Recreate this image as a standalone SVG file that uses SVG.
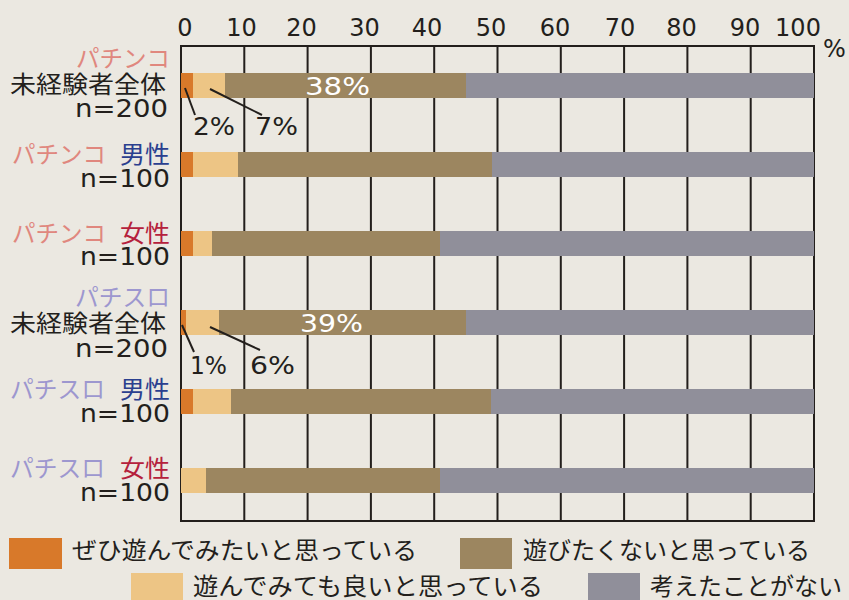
<svg xmlns="http://www.w3.org/2000/svg" width="849" height="600" viewBox="0 0 849 600">
<style>
.bg{fill:#EBE8E1}
.grid{stroke:#231F1C;stroke-width:2;fill:none}
.s1{fill:#D8792A}
.s2{fill:#EDC585}
.s3{fill:#9C8660}
.s4{fill:#908F9A}
.num{font-family:"DejaVu Sans","Liberation Sans",sans-serif;font-size:24px;fill:#231F1C}
.jp{font-family:"Noto Sans CJK JP","Noto Sans",sans-serif;font-size:24px;fill:#231F1C}
.lbl{font-family:"Noto Sans CJK JP","Noto Sans",sans-serif;font-size:24px;fill:#231F1C}
.pk{fill:#E0877E}
.pv{fill:#9D97CF}
.male{fill:#2A3F8F}
.fem{fill:#B5213C}
.wt{font-family:"DejaVu Sans","Liberation Sans",sans-serif;font-size:24px;fill:#FFFFFF}
.lead{stroke:#231F1C;stroke-width:2;fill:none}
</style>
<rect class="bg" x="0" y="0" width="849" height="600"/>

<g id="axis">
  <rect class="grid" x="181" y="46" width="633" height="475"/>
  <path class="grid" d="M244.3 46V521M307.6 46V521M370.9 46V521M434.2 46V521M497.5 46V521M560.8 46V521M624.1 46V521M687.4 46V521M750.7 46V521"/>
  <g class="num" text-anchor="middle">
    <text x="185" y="36">0</text>
    <text x="241.5" y="36">10</text>
    <text x="301.5" y="36">20</text>
    <text x="364.5" y="36">30</text>
    <text x="427" y="36">40</text>
    <text x="491" y="36">50</text>
    <text x="555" y="36">60</text>
    <text x="620" y="36">70</text>
    <text x="681.5" y="36">80</text>
    <text x="745" y="36">90</text>
    <text x="798" y="36">100</text>
  </g>
  <text class="num" x="823" y="57">%</text>
</g>

<g id="bar-pachinko-all">
  <rect class="s1" x="181" y="73" width="12" height="25"/>
  <rect class="s2" x="193" y="73" width="32" height="25"/>
  <rect class="s3" x="225" y="73" width="241" height="25"/>
  <rect class="s4" x="466" y="73" width="348" height="25"/>
  <text class="wt" x="337.5" y="95" text-anchor="middle" textLength="65" lengthAdjust="spacingAndGlyphs">38%</text>
  <text class="lbl pk" x="170" y="67" text-anchor="end" textLength="94" lengthAdjust="spacingAndGlyphs">パチンコ</text>
  <text class="lbl" x="166" y="93" text-anchor="end" textLength="156" lengthAdjust="spacingAndGlyphs">未経験者全体</text>
  <text class="num" x="168" y="117" text-anchor="end" textLength="93" lengthAdjust="spacingAndGlyphs">n=200</text>
  <text class="num" x="193" y="135" textLength="42" lengthAdjust="spacingAndGlyphs">2%</text>
  <text class="num" x="255" y="135" textLength="43" lengthAdjust="spacingAndGlyphs">7%</text>
</g>

<g id="bar-pachinko-male">
  <rect class="s1" x="181" y="152" width="12" height="25"/>
  <rect class="s2" x="193" y="152" width="45" height="25"/>
  <rect class="s3" x="238" y="152" width="254" height="25"/>
  <rect class="s4" x="492" y="152" width="322" height="25"/>
  <text class="lbl pk" x="12" y="163" textLength="94" lengthAdjust="spacingAndGlyphs">パチンコ</text>
  <text class="lbl male" x="170" y="163" text-anchor="end" textLength="50" lengthAdjust="spacingAndGlyphs">男性</text>
  <text class="num" x="170" y="187" text-anchor="end" textLength="90" lengthAdjust="spacingAndGlyphs">n=100</text>
</g>

<g id="bar-pachinko-female">
  <rect class="s1" x="181" y="231" width="12" height="25"/>
  <rect class="s2" x="193" y="231" width="19" height="25"/>
  <rect class="s3" x="212" y="231" width="228" height="25"/>
  <rect class="s4" x="440" y="231" width="374" height="25"/>
  <text class="lbl pk" x="12" y="242" textLength="94" lengthAdjust="spacingAndGlyphs">パチンコ</text>
  <text class="lbl fem" x="170" y="242" text-anchor="end" textLength="50" lengthAdjust="spacingAndGlyphs">女性</text>
  <text class="num" x="170" y="265" text-anchor="end" textLength="90" lengthAdjust="spacingAndGlyphs">n=100</text>
</g>

<g id="bar-pachislo-all">
  <rect class="s1" x="181" y="310" width="5" height="25"/>
  <rect class="s2" x="186" y="310" width="33" height="25"/>
  <rect class="s3" x="219" y="310" width="247" height="25"/>
  <rect class="s4" x="466" y="310" width="348" height="25"/>
  <text class="wt" x="331.5" y="332" text-anchor="middle" textLength="63" lengthAdjust="spacingAndGlyphs">39%</text>
  <text class="lbl pv" x="170" y="306" text-anchor="end" textLength="95" lengthAdjust="spacingAndGlyphs">パチスロ</text>
  <text class="lbl" x="166" y="332" text-anchor="end" textLength="156" lengthAdjust="spacingAndGlyphs">未経験者全体</text>
  <text class="num" x="168" y="357" text-anchor="end" textLength="93" lengthAdjust="spacingAndGlyphs">n=200</text>
  <text class="num" x="190" y="374" textLength="37" lengthAdjust="spacingAndGlyphs">1%</text>
  <text class="num" x="250" y="374" textLength="45" lengthAdjust="spacingAndGlyphs">6%</text>
</g>

<g id="bar-pachislo-male">
  <rect class="s1" x="181" y="389" width="12" height="25"/>
  <rect class="s2" x="193" y="389" width="38" height="25"/>
  <rect class="s3" x="231" y="389" width="260" height="25"/>
  <rect class="s4" x="491" y="389" width="323" height="25"/>
  <text class="lbl pv" x="10" y="398" textLength="95" lengthAdjust="spacingAndGlyphs">パチスロ</text>
  <text class="lbl male" x="170" y="398" text-anchor="end" textLength="50" lengthAdjust="spacingAndGlyphs">男性</text>
  <text class="num" x="170" y="422" text-anchor="end" textLength="90" lengthAdjust="spacingAndGlyphs">n=100</text>
</g>

<g id="bar-pachislo-female">
  <rect class="s2" x="181" y="468" width="25" height="25"/>
  <rect class="s3" x="206" y="468" width="234" height="25"/>
  <rect class="s4" x="440" y="468" width="374" height="25"/>
  <text class="lbl pv" x="10" y="477" textLength="95" lengthAdjust="spacingAndGlyphs">パチスロ</text>
  <text class="lbl fem" x="170" y="477" text-anchor="end" textLength="50" lengthAdjust="spacingAndGlyphs">女性</text>
  <text class="num" x="170" y="501" text-anchor="end" textLength="90" lengthAdjust="spacingAndGlyphs">n=100</text>
</g>

<g id="connectors">
  <line class="lead" x1="185" y1="88" x2="195" y2="115"/>
  <line class="lead" x1="210" y1="89" x2="262" y2="115"/>
  <line class="lead" x1="182" y1="325" x2="194" y2="352"/>
  <line class="lead" x1="210" y1="327" x2="260" y2="350"/>
</g>

<g id="legend">
  <rect class="s1" x="9" y="538" width="53" height="31"/>
  <text class="jp" x="72" y="559" textLength="345" lengthAdjust="spacingAndGlyphs">ぜひ遊んでみたいと思っている</text>
  <rect class="s3" x="460" y="538" width="52" height="31"/>
  <text class="jp" x="523" y="559" textLength="287" lengthAdjust="spacingAndGlyphs">遊びたくないと思っている</text>
  <rect class="s2" x="131" y="573" width="52" height="27"/>
  <text class="jp" x="193" y="595" textLength="350" lengthAdjust="spacingAndGlyphs">遊んでみても良いと思っている</text>
  <rect class="s4" x="588" y="573" width="52" height="27"/>
  <text class="jp" x="650" y="595" textLength="192" lengthAdjust="spacingAndGlyphs">考えたことがない</text>
</g>
</svg>
